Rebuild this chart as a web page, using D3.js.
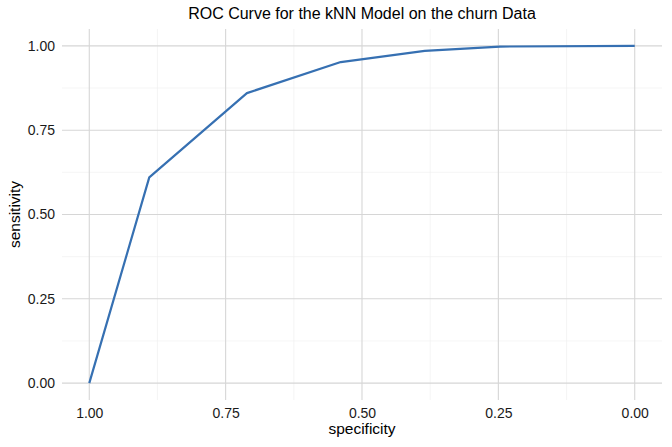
<!DOCTYPE html>
<html>
<head>
<meta charset="utf-8">
<script src="https://cdn.jsdelivr.net/npm/d3@7"></script>
<style>
body { margin: 0; background: #fff; }
svg { display: block; font-family: "Liberation Sans", Arial, sans-serif; }
</style>
</head>
<body>
<svg id="chart" width="672" height="447"></svg>
<script>
const specificity = [1.00, 0.890, 0.711, 0.539, 0.385, 0.247, 0.00];
const sensitivity = [0.00, 0.610, 0.860, 0.952, 0.985, 0.998, 1.00];
const xTicks = [1.00, 0.75, 0.50, 0.25, 0.00];
const yTicks = [0.00, 0.25, 0.50, 0.75, 1.00];
const xMinor = [0.875, 0.625, 0.375, 0.125];
const yMinor = [0.125, 0.375, 0.625, 0.875];
const title = "ROC Curve for the kNN Model on the churn Data";
const xLabel = "specificity";
const yLabel = "sensitivity";

const svg = d3.select("#chart");
const panel = { left: 62, right: 662, top: 29, bottom: 400 };

const x = d3.scaleLinear().domain([1.05, -0.05]).range([panel.left, panel.right]);
const y = d3.scaleLinear().domain([-0.05, 1.05]).range([panel.bottom, panel.top]);

const grid = svg.append("g");
grid.selectAll(".xminor").data(xMinor).join("line")
  .attr("x1", d => x(d)).attr("x2", d => x(d))
  .attr("y1", panel.top).attr("y2", panel.bottom)
  .attr("stroke", "#eeeeee").attr("stroke-width", 0.6);
grid.selectAll(".yminor").data(yMinor).join("line")
  .attr("y1", d => y(d)).attr("y2", d => y(d))
  .attr("x1", panel.left).attr("x2", panel.right)
  .attr("stroke", "#eeeeee").attr("stroke-width", 0.6);
grid.selectAll(".xmajor").data(xTicks).join("line")
  .attr("x1", d => x(d)).attr("x2", d => x(d))
  .attr("y1", panel.top).attr("y2", panel.bottom)
  .attr("stroke", "#d6d6d6").attr("stroke-width", 1.1);
grid.selectAll(".ymajor").data(yTicks).join("line")
  .attr("y1", d => y(d)).attr("y2", d => y(d))
  .attr("x1", panel.left).attr("x2", panel.right)
  .attr("stroke", "#d6d6d6").attr("stroke-width", 1.1);

const xAxis = svg.append("g").attr("transform", `translate(0,${panel.bottom})`)
  .call(d3.axisBottom(x).tickValues(xTicks).tickFormat(d3.format(".2f")).tickSize(0).tickPadding(8));
xAxis.select(".domain").remove();
xAxis.selectAll("text").attr("font-size", 14).attr("fill", "#1a1a1a").attr("font-family", "Liberation Sans, Arial, sans-serif");

const yAxis = svg.append("g").attr("transform", `translate(${panel.left},0)`)
  .call(d3.axisLeft(y).tickValues(yTicks).tickFormat(d3.format(".2f")).tickSize(0).tickPadding(7));
yAxis.select(".domain").remove();
yAxis.selectAll("text").attr("font-size", 14).attr("fill", "#1a1a1a").attr("font-family", "Liberation Sans, Arial, sans-serif");

const pts = specificity.map((s, i) => [s, sensitivity[i]]);
svg.append("path").datum(pts)
  .attr("fill", "none").attr("stroke", "#3670b2").attr("stroke-width", 2.2)
  .attr("stroke-linejoin", "round")
  .attr("d", d3.line().x(d => x(d[0])).y(d => y(d[1])));

svg.append("text").attr("x", (panel.left + panel.right) / 2).attr("y", 19)
  .attr("text-anchor", "middle").attr("font-size", 16).attr("fill", "#000").text(title);
svg.append("text").attr("x", (panel.left + panel.right) / 2).attr("y", 434)
  .attr("text-anchor", "middle").attr("font-size", 15.5).attr("fill", "#000").text(xLabel);
svg.append("text").attr("transform", `translate(20,${(panel.top + panel.bottom) / 2}) rotate(-90)`)
  .attr("text-anchor", "middle").attr("font-size", 15.5).attr("fill", "#000").text(yLabel);
</script>
</body>
</html>
